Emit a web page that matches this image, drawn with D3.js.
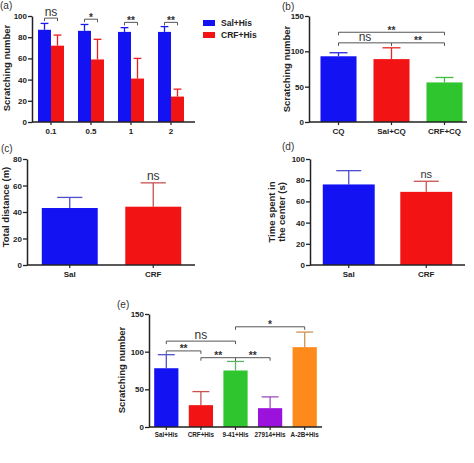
<!DOCTYPE html>
<html>
<head>
<meta charset="utf-8">
<script src="https://cdn.jsdelivr.net/npm/d3@7/dist/d3.min.js"></script>
<style>
  body { margin: 0; background: #fff; }
  text { font-family: "Liberation Sans", Arial, sans-serif; }
</style>
</head>
<body>
<svg width="474" height="463"></svg>
<script>
// ---- data ----
const aDoses = ["0.1", "0.5", "1", "2"];
const aSeries = ["Sal+His", "CRF+His"];
const aSalMean = [87, 86, 85, 85];
const aSalSem = [6, 6, 4, 5];
const aCrfMean = [72, 59, 41, 24];
const aCrfSem = [10, 19, 19, 7];
const aTicks = [0, 20, 40, 60, 80, 100];
const aSig = [["0.1", 98, "ns"], ["0.5", 97, "*"], ["1", 94, "**"], ["2", 94, "**"]];

const bGroups = ["CQ", "Sal+CQ", "CRF+CQ"];
const bMean = [93, 89, 56];
const bSem = [5, 16, 7];
const bTicks = [0, 50, 100, 150];
const bSig = [["CQ", "CRF+CQ", 127, "**"], ["CQ", "Sal+CQ", 112, "ns"], ["Sal+CQ", "CRF+CQ", 112, "**"]];

const cGroups = ["Sal", "CRF"];
const cMean = [43, 44];
const cSem = [8, 18];
const cTicks = [0, 20, 40, 60, 80];

const dGroups = ["Sal", "CRF"];
const dMean = [76, 69];
const dSem = [13, 10];
const dTicks = [0, 20, 40, 60, 80, 100];

const eGroups = ["Sal+His", "CRF+His", "9-41+His", "27914+His", "A-2B+His"];
const eMean = [78, 29, 75, 25, 106];
const eSem = [18, 18, 12, 15, 20];
const eTicks = [0, 50, 100, 150];
const eSig = [["9-41+His", "A-2B+His", 133, "*"], ["Sal+His", "9-41+His", 114, "ns"],
              ["Sal+His", "CRF+His", 101, "**"], ["CRF+His", "9-41+His", 92, "**"],
              ["9-41+His", "27914+His", 92, "**"]];

const BLUE = "#1212f2", RED = "#f21414", GREEN = "#2fc52f", PURPLE = "#9a12dc", ORANGE = "#ff8a1c";

const svg = d3.select("svg");
svg.append("rect").attr("width", 474).attr("height", 463).attr("fill", "#fff");

function errColor(c, k) { return d3.interpolateRgb(c, "#9a9a9a")(k); }

function yAxis(g, y, ticks, x0, fs) {
    const ax = g.append("g")
        .attr("transform", "translate(" + x0 + ",0)")
        .call(d3.axisLeft(y).tickValues(ticks).tickSize(4).tickSizeOuter(0));
    ax.select(".domain").attr("stroke", "#222").attr("stroke-width", 1.5);
    ax.selectAll(".tick line").attr("stroke", "#222").attr("stroke-width", 1.3);
    ax.selectAll("text").attr("font-size", fs).attr("font-weight", "bold").attr("fill", "#222").attr("x", -5);
}

function xAxis(g, x, y0, x0, x1, fs) {
    const ax = g.append("g")
        .attr("transform", "translate(0," + y0 + ")")
        .call(d3.axisBottom(x).tickSize(3).tickSizeOuter(0));
    ax.select(".domain").remove();
    ax.selectAll(".tick line").attr("stroke", "#222").attr("stroke-width", 1.2);
    ax.selectAll("text").attr("font-size", fs).attr("font-weight", "bold").attr("fill", "#222").attr("y", 6);
    g.append("line").attr("x1", x0).attr("x2", x1).attr("y1", y0).attr("y2", y0)
        .attr("stroke", "#222").attr("stroke-width", 1.5);
}

function yLabel(g, lines, cx, cy, fs) {
    const t = g.append("text")
        .attr("transform", "translate(" + cx + "," + cy + ") rotate(-90)")
        .attr("text-anchor", "middle")
        .attr("font-size", fs).attr("font-weight", "bold").attr("fill", "#222");
    lines.forEach((l, i) => {
        t.append("tspan").attr("x", 0).attr("dy", i === 0 ? -(lines.length - 1) * fs * 0.55 : fs * 1.1).text(l);
    });
}

function bars(g, x, y, cats, means, sems, colors, capFrac, errMix) {
    const rows = cats.map((c, i) => ({ c: c, m: means[i], s: sems[i], col: colors[i] }));
    const bw = x.bandwidth();
    const eb = g.append("g");
    rows.forEach(d => {
        const cx = x(d.c) + bw / 2;
        const ec = errColor(d.col, errMix);
        eb.append("line").attr("x1", cx).attr("x2", cx).attr("y1", y(d.m)).attr("y2", y(d.m + d.s))
            .attr("stroke", ec).attr("stroke-width", 1.3);
        eb.append("line").attr("x1", cx - bw * capFrac / 2).attr("x2", cx + bw * capFrac / 2)
            .attr("y1", y(d.m + d.s)).attr("y2", y(d.m + d.s))
            .attr("stroke", ec).attr("stroke-width", 1.3);
    });
    g.selectAll(null).data(rows).enter().append("rect")
        .attr("x", d => x(d.c)).attr("width", bw)
        .attr("y", d => y(d.m)).attr("height", d => y(0) - y(d.m))
        .attr("fill", d => d.col);
}

function bracket(g, xa, xb, yy, label, big) {
    g.append("path")
        .attr("d", "M" + xa + "," + (yy + 3) + "V" + yy + "H" + xb + "V" + (yy + 3))
        .attr("fill", "none").attr("stroke", "#555").attr("stroke-width", 1);
    g.append("text").attr("x", (xa + xb) / 2).attr("y", label === "ns" ? yy - 2 : yy + 1.5)
        .attr("text-anchor", "middle")
        .attr("font-size", label === "ns" ? big : big * 0.85)
        .attr("font-weight", label === "ns" ? "normal" : "bold")
        .attr("fill", "#333").text(label);
}

function panelTag(txt, px, py) {
    svg.append("text").attr("x", px).attr("y", py).attr("font-size", 10).attr("fill", "#333").text(txt);
}

// ---- (a) ----
(function () {
    const g = svg.append("g");
    const y = d3.scaleLinear().domain([0, 100]).range([122, 16]);
    const x = d3.scaleBand().domain(aDoses).range([31, 191]).paddingInner(0.35).paddingOuter(0.175);
    const xs = d3.scaleBand().domain(aSeries).range([0, x.bandwidth()]);
    const cols = [BLUE, RED];
    const means = [aSalMean, aCrfMean], sems = [aSalSem, aCrfSem];
    aSeries.forEach((s, k) => {
        // per-series position = dose band + series offset
        const xk = c => x(c) + xs(s);
        xk.bandwidth = () => xs.bandwidth();
        bars(g, xk, y, aDoses, means[k], sems[k], aDoses.map(() => cols[k]), 0.6, 0.05);
    });
    yAxis(g, y, aTicks, 32, 8);
    xAxis(g, x, 122, 32, 195, 8);
    yLabel(g, ["Scratching number"], 10, 68, 9.5);
    aSig.forEach(s => {
        const xa = x(s[0]) + xs("Sal+His") + xs.bandwidth() / 2;
        const xb = x(s[0]) + xs("CRF+His") + xs.bandwidth() / 2;
        bracket(g, xa, xb, y(s[1]), s[2], 12);
    });
    // legend
    const lg = g.append("g");
    aSeries.forEach((s, i) => {
        lg.append("rect").attr("x", 203).attr("y", 20 + i * 12).attr("width", 12).attr("height", 6).attr("fill", cols[i]);
        lg.append("text").attr("x", 221).attr("y", 26 + i * 12).attr("font-size", 8.5)
            .attr("font-weight", "bold").attr("fill", "#222").text(s);
    });
    panelTag("(a)", 0, 9);
})();

// ---- (b) ----
(function () {
    const g = svg.append("g");
    const y = d3.scaleLinear().domain([0, 150]).range([122, 16]);
    const x = d3.scaleBand().domain(bGroups).range([312, 471]).paddingInner(0.32).paddingOuter(0.16);
    bars(g, x, y, bGroups, bMean, bSem, [BLUE, RED, GREEN], 0.5, 0.15);
    yAxis(g, y, bTicks, 309, 8);
    xAxis(g, x, 122, 309, 467, 8);
    yLabel(g, ["Scratching number"], 290, 69, 9.5);
    bSig.forEach(s => {
        bracket(g, x(s[0]) + x.bandwidth() / 2, x(s[1]) + x.bandwidth() / 2, y(s[2]), s[3], 12);
    });
    panelTag("(b)", 282, 10);
})();

// ---- (c) ----
(function () {
    const g = svg.append("g");
    const y = d3.scaleLinear().domain([0, 80]).range([265, 159]);
    const x = d3.scaleBand().domain(cGroups).range([28, 195]).paddingInner(0.33).paddingOuter(0.165);
    bars(g, x, y, cGroups, cMean, cSem, [BLUE, RED], 0.45, 0.45);
    yAxis(g, y, cTicks, 27, 8);
    xAxis(g, x, 265, 27, 195, 8);
    yLabel(g, ["Total distance (m)"], 9, 207, 9.5);
    g.append("text").attr("x", x("CRF") + x.bandwidth() / 2).attr("y", y(cMean[1] + cSem[1]) - 3)
        .attr("text-anchor", "middle").attr("font-size", 12).attr("fill", "#333").text("ns");
    panelTag("(c)", 1, 152);
})();

// ---- (d) ----
(function () {
    const g = svg.append("g");
    const y = d3.scaleLinear().domain([0, 100]).range([265, 159]);
    const x = d3.scaleBand().domain(dGroups).range([310, 465]).paddingInner(0.33).paddingOuter(0.165);
    bars(g, x, y, dGroups, dMean, dSem, [BLUE, RED], 0.48, 0.45);
    yAxis(g, y, dTicks, 310, 8);
    xAxis(g, x, 265, 310, 465, 8);
    yLabel(g, ["Time spent in", "the center (s)"], 280, 212, 9.5);
    g.append("text").attr("x", x("CRF") + x.bandwidth() / 2).attr("y", y(dMean[1] + dSem[1]) - 3)
        .attr("text-anchor", "middle").attr("font-size", 11).attr("fill", "#333").text("ns");
    panelTag("(d)", 282, 150);
})();

// ---- (e) ----
(function () {
    const g = svg.append("g");
    const y = d3.scaleLinear().domain([0, 150]).range([427, 314]);
    const x = d3.scaleBand().domain(eGroups).range([149, 322]).paddingInner(0.3).paddingOuter(0.15);
    bars(g, x, y, eGroups, eMean, eSem, [BLUE, RED, GREEN, PURPLE, ORANGE], 0.7, 0.45);
    yAxis(g, y, eTicks, 149, 8);
    xAxis(g, x, 427, 149, 322, 6.3);
    yLabel(g, ["Scratching number"], 125, 370, 9.5);
    eSig.forEach(s => {
        bracket(g, x(s[0]) + x.bandwidth() / 2, x(s[1]) + x.bandwidth() / 2, y(s[2]), s[3], 12);
    });
    panelTag("(e)", 117, 308);
})();
</script>
</body>
</html>
